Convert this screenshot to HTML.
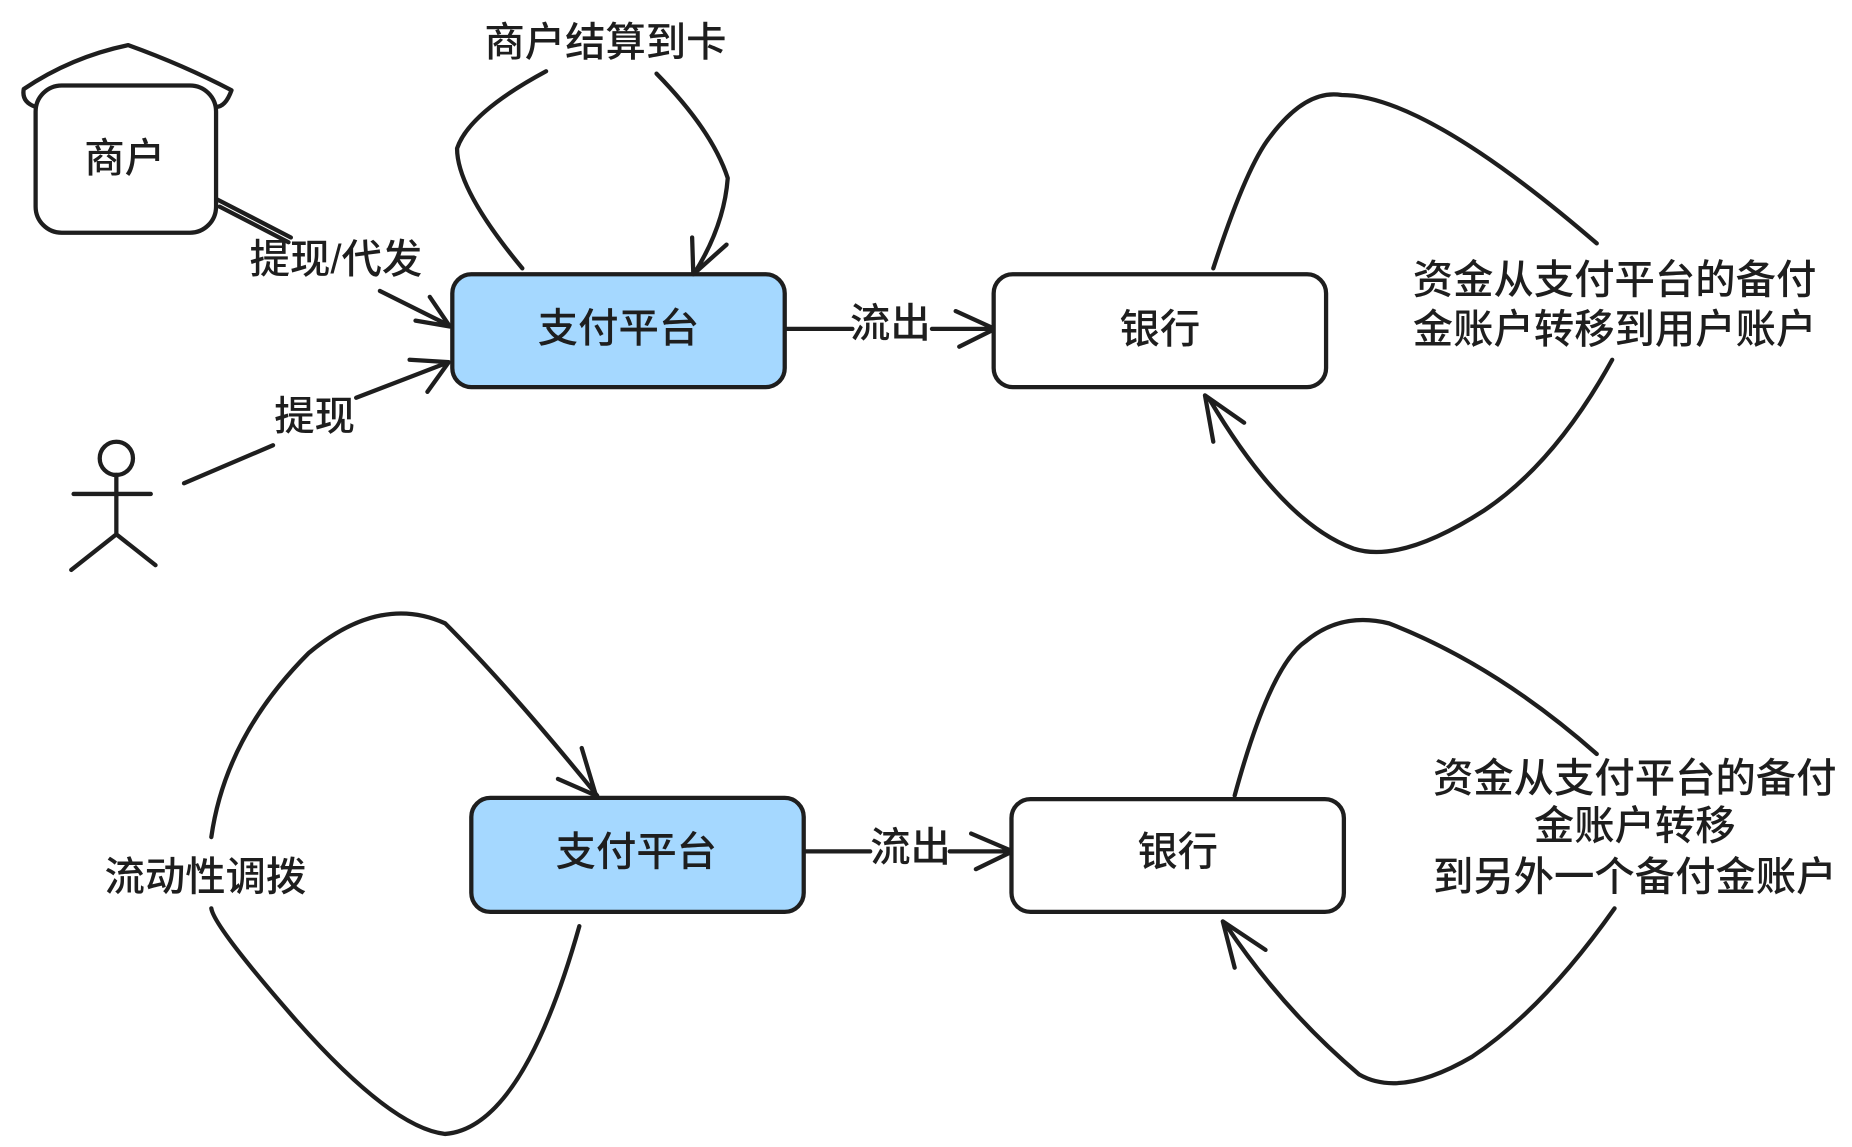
<!DOCTYPE html>
<html><head><meta charset="utf-8"><style>
html,body{margin:0;padding:0;background:#fff;width:1852px;height:1147px;overflow:hidden}
text{font-family:"Liberation Sans","Noto Sans CJK SC",sans-serif;font-size:34px;fill:#1e1e1e;font-weight:500}
</style></head><body>
<svg width="1852" height="1147" viewBox="0 0 1560 966" preserveAspectRatio="none" xmlns="http://www.w3.org/2000/svg">
<g fill="none" stroke="#1e1e1e" stroke-width="3.6" stroke-linecap="round" stroke-linejoin="round">
<path d="M20 75 Q60 48 108 38 Q155 55 195 76 Q190 90 182 90 L30 90 Q18 86 20 75Z" fill="#fff"/>
<rect x="30" y="72" width="152" height="124" rx="22" fill="#fff"/>
<path d="M183 168 L245 200 M185 174 L243 204"/>
<path d="M320 245 L378 274 M350 270 L379 275 L362 250"/>
<rect x="381" y="231" width="280" height="95" rx="16" fill="#a5d8ff"/>
<path d="M440 226 Q385 160 385 125 Q395 95 460 60"/>
<path d="M553 62 Q600 110 613 150 Q610 190 585 230 M583 200 L584 231 L612 206"/>
<path d="M663 277 L718 277 M785 277 L838 277 M805 262 L838 277 L808 292"/>
<rect x="837" y="231" width="280" height="95" rx="16" fill="#fff"/>
<path d="M1022 226 Q1050 140 1070 115 Q1100 75 1130 80 Q1200 80 1345 205"/>
<path d="M1358 303 Q1310 390 1250 430 Q1180 475 1140 462 Q1080 440 1018 335 M1015 333 L1022 372 M1015 333 L1048 356"/>
<circle cx="98" cy="386" r="14"/>
<path d="M98 400 L98 450 M62 416 L127 416 M98 450 L60 480 M98 450 L131 476"/>
<path d="M155 407 L230 375 M300 335 L378 305 M345 303 L378 305 L360 330"/>
<rect x="397" y="672" width="280" height="96" rx="16" fill="#a5d8ff"/>
<path d="M488 780 Q440 950 375 955 Q330 950 250 860 Q180 780 178 765"/>
<path d="M178 705 Q190 620 260 550 Q320 500 375 525 Q430 580 503 670 M490 630 L502 670 L470 656"/>
<path d="M679 717 L733 717 M800 717 L853 717 M818 702 L853 717 L822 732"/>
<rect x="852" y="673" width="280" height="95" rx="16" fill="#fff"/>
<path d="M1040 670 Q1070 560 1100 540 Q1130 515 1170 525 Q1260 560 1345 635"/>
<path d="M1360 765 Q1300 850 1240 890 Q1180 925 1145 905 Q1080 850 1032 778 M1030 776 L1040 815 M1030 776 L1066 800"/>
</g>
<g text-anchor="middle">
<text x="105" y="145">商户</text>
<text x="510" y="47">商户结算到卡</text>
<text x="283" y="230">提现/代发</text>
<text x="521" y="288">支付平台</text>
<text x="750" y="284">流出</text>
<text x="977" y="289">银行</text>
<text x="1360" y="247">资金从支付平台的备付</text>
<text x="1360" y="289">金账户转移到用户账户</text>
<text x="265" y="362">提现</text>
<text x="536" y="729">支付平台</text>
<text x="767" y="725">流出</text>
<text x="992" y="729">银行</text>
<text x="173" y="750">流动性调拨</text>
<text x="1377" y="667">资金从支付平台的备付</text>
<text x="1377" y="707">金账户转移</text>
<text x="1377" y="750">到另外一个备付金账户</text>
</g>
</svg>
</body></html>
